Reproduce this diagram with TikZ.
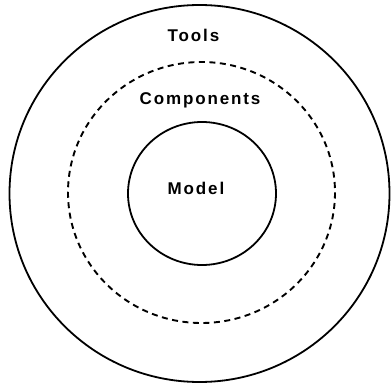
\documentclass[tikz,border=0pt]{standalone}
\usepackage{fontspec}
\newfontfamily\ringfont[LetterSpace=11]{Liberation Sans}
\usepackage{tikz}

\begin{document}
\begin{tikzpicture}[x=1pt,y=-1pt]
         \tikzset{ring/.style={draw=black,line width=1.8pt}}
         \tikzset{dashring/.style={ring,line width=1.9pt,dash pattern=on 6pt off 4.5pt}}
         \tikzset{every node/.style={anchor=base,inner sep=0pt,font=\ringfont\bfseries\fontsize{17}{19}\selectfont}}
         \useasboundingbox (0,0) rectangle (391,385);
         % rings
         \draw[ring] (199.5,193.5) ellipse (190 and 188.5);
         \draw[dashring] (201.5,192.5) ellipse (133.5 and 130.5);
         \draw[ring] (202,193.5) ellipse (74 and 71.5);
         % labels
         \node (tools) at (193.5,42) {Tools};
         \node (components) at (200,104.5) {Components};
         \node (model) at (196,194) {Model};
\end{tikzpicture}
\end{document}
